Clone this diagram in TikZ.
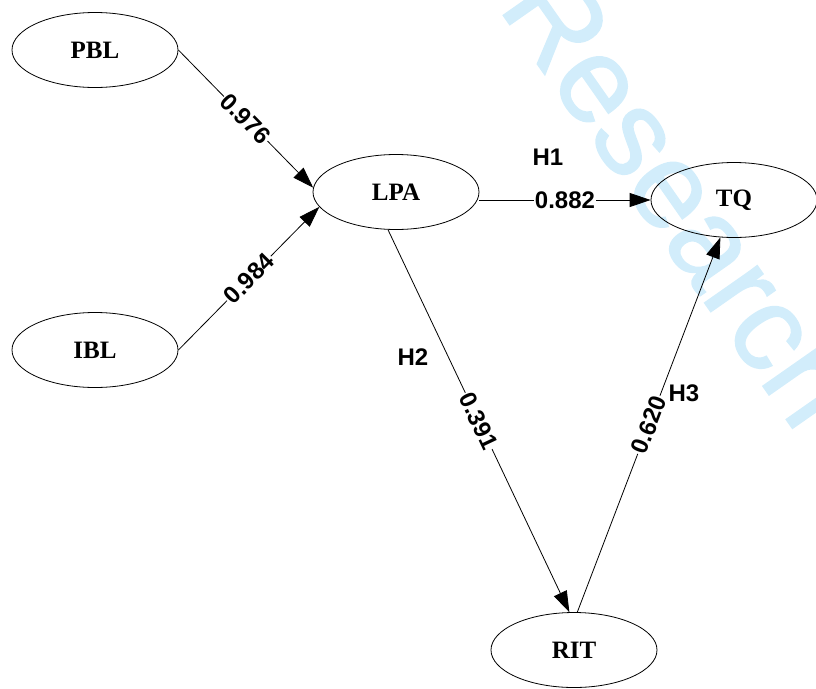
\documentclass[tikz,border=0pt]{standalone}
\usepackage{fontspec}
\setmainfont{Liberation Serif}
\newfontfamily\labelfont{Liberation Sans}
\newfontface\wmfont{Liberation Sans}[FakeBold=1.2]
\usetikzlibrary{shapes.geometric,arrows.meta}
\definecolor{wm}{RGB}{210,237,251}
\tikzset{
 latent/.style={ellipse, draw, line width=0.8pt, minimum width=166pt, minimum height=75pt, inner sep=0pt, font=\fontsize{25}{25}\selectfont\bfseries},
 pathedge/.style={draw, line width=0.8pt, -{Triangle[length=21pt,width=14pt]}},
 coef/.style={sloped, midway, fill=white, inner sep=1pt, font=\labelfont\fontsize{24}{24}\selectfont\bfseries},
 hyp/.style={font=\labelfont\fontsize{24}{24}\selectfont\bfseries, inner sep=0pt},
 watermark/.style={rotate=-55, text=wm, font=\wmfont\fontsize{122}{122}\selectfont, inner sep=0pt}
}
\begin{document}
\begin{tikzpicture}[x=1pt,y=-1pt]
\useasboundingbox (0,0) rectangle (816,688);
\node[watermark] (wmk) at (683,196) {Research};

\node[latent] (PBL) at (95,50) {PBL};
\node[latent] (IBL) at (95,350) {IBL};
\node[latent] (LPA) at (396,192) {LPA};
\node[latent] (TQ) at (734,200) {TQ};
\node[latent] (RIT) at (574,650) {RIT};

\draw[pathedge] (PBL.east) -- node[coef] (c1) {0.976} (LPA.177);
\draw[pathedge] (IBL.east) -- node[coef] (c2) {0.984} (LPA.191);
\draw[pathedge] (LPA.east |- TQ.west) -- node[coef] (c3) {0.882} (TQ.west);
\draw[pathedge] (LPA.258) -- node[coef] (c4) {0.391} (RIT.97);
\draw[pathedge] (RIT.85) -- node[coef] (c5) {0.620} (TQ.250);

\node[hyp] (H1) at (548,157) {H1};
\node[hyp] (H2) at (413,357) {H2};
\node[hyp] (H3) at (684,393) {H3};
\end{tikzpicture}
\end{document}
